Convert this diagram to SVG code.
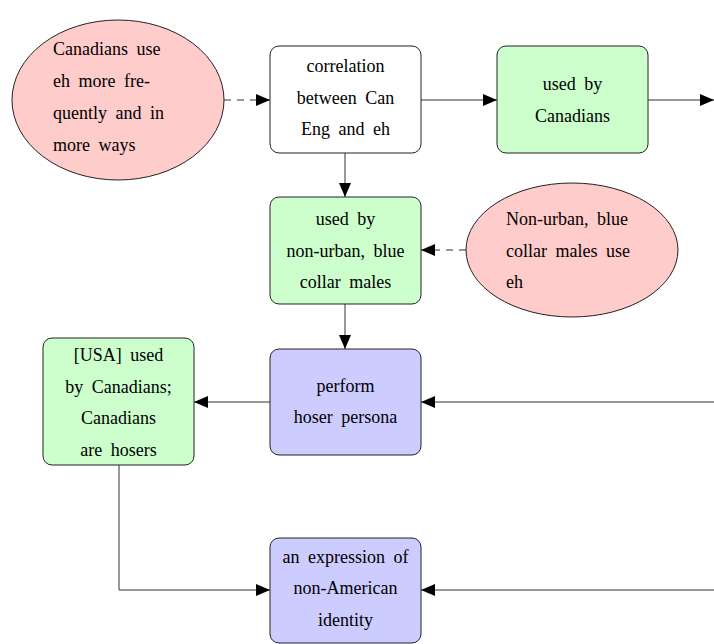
<svg xmlns="http://www.w3.org/2000/svg" width="714" height="644" viewBox="0 0 714 644">
<style>
text{font-family:'Liberation Serif','Times New Roman',serif;font-size:18px;fill:#000;word-spacing:4px}
.c{text-anchor:middle}
.box{stroke:#222;stroke-width:1}
.pink{fill:#ffcccc}
.green{fill:#ccffcc}
.blue{fill:#ccccff}
.white{fill:#fff}
.ln{fill:none;stroke:#333;stroke-width:1}
.dash{stroke-dasharray:7,6}
</style>
<defs>
<marker id="ah" viewBox="0 0 14 12" refX="14" refY="6" markerWidth="14" markerHeight="12" markerUnits="userSpaceOnUse" orient="auto">
<path d="M0,0 L14,6 L0,12 Z" fill="#000"/>
</marker>
</defs>
<g id="connectors">
<path class="ln dash" d="M224,100 L270,100" marker-end="url(#ah)"/>
<path class="ln" d="M421,100 L497,100" marker-end="url(#ah)"/>
<path class="ln" d="M648,100 L714,100" marker-end="url(#ah)"/>
<path class="ln" d="M345,153 L345,197" marker-end="url(#ah)"/>
<path class="ln dash" d="M466,250 L421,250" marker-end="url(#ah)"/>
<path class="ln" d="M345,304 L345,349" marker-end="url(#ah)"/>
<path class="ln" d="M270,402 L194,402" marker-end="url(#ah)"/>
<path class="ln" d="M714,402 L421,402" marker-end="url(#ah)"/>
<path class="ln" d="M119,465 L119,590 L270,590" marker-end="url(#ah)"/>
<path class="ln" d="M714,590 L421,590" marker-end="url(#ah)"/>
</g>
<g id="n_canadians_use">
<ellipse class="box pink" cx="118" cy="100" rx="106" ry="80"/>
<text x="53" y="55" word-spacing="2">Canadians use</text>
<text x="53" y="87" word-spacing="4">eh more fre-</text>
<text x="53" y="119" word-spacing="4">quently and in</text>
<text x="53" y="151" word-spacing="3">more ways</text>
</g>
<g id="n_correlation">
<rect class="box white" x="270" y="46" width="151" height="107" rx="9"/>
<text class="c" x="345.5" y="72">correlation</text>
<text class="c" x="345.5" y="104">between Can</text>
<text class="c" x="345.5" y="135">Eng and eh</text>
</g>
<g id="n_used_canadians">
<rect class="box green" x="497" y="46" width="151" height="107" rx="9"/>
<text class="c" x="572.5" y="90">used by</text>
<text class="c" x="572.5" y="122">Canadians</text>
</g>
<g id="n_used_nonurban">
<rect class="box green" x="270" y="197" width="151" height="107" rx="9"/>
<text class="c" x="345.5" y="225">used by</text>
<text class="c" x="345.5" y="257">non-urban, blue</text>
<text class="c" x="345.5" y="288">collar males</text>
</g>
<g id="n_nonurban_use">
<ellipse class="box pink" cx="572" cy="250" rx="106" ry="67"/>
<text x="506" y="225" word-spacing="3">Non-urban, blue</text>
<text x="506" y="257" word-spacing="3">collar males use</text>
<text x="506" y="288">eh</text>
</g>
<g id="n_usa">
<rect class="box green" x="43" y="338" width="151" height="127" rx="9"/>
<text class="c" x="118.5" y="361">[USA] used</text>
<text class="c" x="118.5" y="393">by Canadians;</text>
<text class="c" x="118.5" y="424">Canadians</text>
<text class="c" x="118.5" y="456">are hosers</text>
</g>
<g id="n_hoser">
<rect class="box blue" x="270" y="349" width="151" height="106" rx="9"/>
<text class="c" x="345.5" y="392">perform</text>
<text class="c" x="345.5" y="423">hoser persona</text>
</g>
<g id="n_expression">
<rect class="box blue" x="270" y="538" width="151" height="105" rx="9"/>
<text class="c" x="345.5" y="563" word-spacing="3">an expression of</text>
<text class="c" x="345.5" y="594">non-American</text>
<text class="c" x="345.5" y="626">identity</text>
</g>
</svg>
